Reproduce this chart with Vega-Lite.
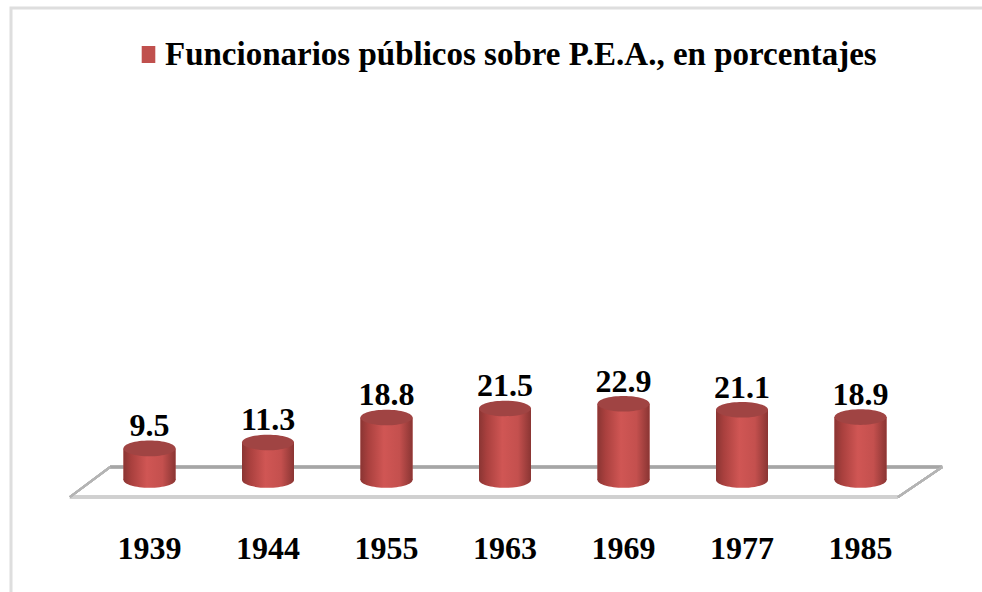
{
  "$schema": "https://vega.github.io/schema/vega-lite/v6.json",
  "width": 1000,
  "height": 600,
  "autosize": {"type": "none"},
  "padding": {"left": 11, "top": 8, "right": 0, "bottom": 0},
  "background": "white",
  "config": {
    "view": {"stroke": "#dedede", "strokeWidth": 3},
    "font": "Liberation Serif"
  },
  "data": {
    "values": [
      {"year": "1939", "value": 9.5, "serie": "Funcionarios públicos sobre P.E.A., en porcentajes"},
      {"year": "1944", "value": 11.3, "serie": "Funcionarios públicos sobre P.E.A., en porcentajes"},
      {"year": "1955", "value": 18.8, "serie": "Funcionarios públicos sobre P.E.A., en porcentajes"},
      {"year": "1963", "value": 21.5, "serie": "Funcionarios públicos sobre P.E.A., en porcentajes"},
      {"year": "1969", "value": 22.9, "serie": "Funcionarios públicos sobre P.E.A., en porcentajes"},
      {"year": "1977", "value": 21.1, "serie": "Funcionarios públicos sobre P.E.A., en porcentajes"},
      {"year": "1985", "value": 18.9, "serie": "Funcionarios públicos sobre P.E.A., en porcentajes"}
    ]
  },
  "encoding": {
    "x": {
      "field": "year",
      "type": "nominal",
      "scale": {"paddingInner": 0.5612, "paddingOuter": 1.0, "align": 0.4747},
      "axis": {
        "title": null,
        "domain": false,
        "ticks": false,
        "tickSize": 0,
        "offset": -60,
        "labelPadding": 0,
        "labelBaseline": "middle",
        "labelAngle": 0,
        "labelFont": "Liberation Serif",
        "labelFontSize": 32,
        "labelFontWeight": "bold",
        "labelColor": "#000000"
      }
    }
  },
  "layer": [
    {
      "mark": {"type": "rule", "color": "#a6a6a6", "strokeWidth": 2.5},
      "encoding": {
        "x": {"datum": "1939", "bandPosition": -0.26},
        "x2": {"datum": "1985", "bandPosition": 2.07},
        "y": {"datum": 3.9, "type": "quantitative", "scale": {"domain": [-38.4, 141.7], "nice": false, "zero": false}, "axis": null}
      }
    },
    {
      "mark": {"type": "rule", "color": "#d0d0d0", "strokeWidth": 3.5},
      "encoding": {
        "x": {"datum": "1939", "bandPosition": -1.03},
        "x2": {"datum": "1985", "bandPosition": 1.22},
        "y": {"datum": -5.1, "type": "quantitative"}
      }
    },
    {
      "mark": {"type": "rule", "color": "#b4b4b4", "strokeWidth": 2},
      "encoding": {
        "x": {"datum": "1939", "bandPosition": -1.03},
        "x2": {"datum": "1939", "bandPosition": -0.26},
        "y": {"datum": -5.1, "type": "quantitative"},
        "y2": {"datum": 3.9}
      }
    },
    {
      "mark": {"type": "rule", "color": "#b4b4b4", "strokeWidth": 2},
      "encoding": {
        "x": {"datum": "1985", "bandPosition": 1.22},
        "x2": {"datum": "1985", "bandPosition": 2.07},
        "y": {"datum": -5.1, "type": "quantitative"},
        "y2": {"datum": 3.9}
      }
    },
    {
      "mark": {
        "type": "point",
        "filled": true,
        "opacity": 1,
        "shape": "M-1,0A1,0.3,0,1,0,1,0A1,0.3,0,1,0,-1,0Z",
        "size": 2704,
        "fill": {"gradient": "linear", "x1": 0, "x2": 1, "y1": 0, "y2": 0,
          "stops": [{"offset": 0, "color": "#8a3533"}, {"offset": 0.15, "color": "#a9403e"}, {"offset": 0.45, "color": "#d05654"}, {"offset": 0.75, "color": "#c4504e"}, {"offset": 1, "color": "#8a3533"}]}
      },
      "encoding": {
        "y": {"datum": 0, "type": "quantitative"}
      }
    },
    {
      "mark": {"type": "bar"},
      "encoding": {
        "y": {"field": "value", "type": "quantitative"},
        "y2": {"datum": 0},
        "color": {
          "field": "serie",
          "type": "nominal",
          "scale": {"range": ["#c0504d"]},
          "legend": {
            "title": null,
            "orient": "none",
            "legendX": 121,
            "legendY": 30,
            "padding": 0,
            "symbolType": "M-0.8,-1H0.8V1H-0.8Z",
            "symbolSize": 289,
            "symbolStrokeWidth": 0,
            "symbolOpacity": 1,
            "labelFont": "Liberation Serif",
            "labelFontSize": 33,
            "labelFontWeight": "bold",
            "labelColor": "#000000",
            "labelLimit": 2000,
            "labelOffset": 0
          }
        }
      }
    },
    {
      "mark": {
        "type": "bar",
        "fill": {"gradient": "linear", "x1": 0, "x2": 1, "y1": 0, "y2": 0,
          "stops": [{"offset": 0, "color": "#8a3533"}, {"offset": 0.15, "color": "#a9403e"}, {"offset": 0.45, "color": "#d05654"}, {"offset": 0.75, "color": "#c4504e"}, {"offset": 1, "color": "#8a3533"}]}
      },
      "encoding": {
        "y": {"field": "value", "type": "quantitative"},
        "y2": {"datum": 0}
      }
    },
    {
      "mark": {
        "type": "point",
        "filled": true,
        "opacity": 1,
        "shape": "M-1,0A1,0.3,0,1,0,1,0A1,0.3,0,1,0,-1,0Z",
        "size": 2704,
        "fill": "#a04443"
      },
      "encoding": {
        "y": {"field": "value", "type": "quantitative"}
      }
    },
    {
      "mark": {
        "type": "text",
        "baseline": "middle",
        "dy": -22,
        "font": "Liberation Serif",
        "fontSize": 32,
        "fontWeight": "bold",
        "color": "#000000"
      },
      "encoding": {
        "y": {"field": "value", "type": "quantitative"},
        "text": {"field": "value", "type": "quantitative", "format": ".1f"}
      }
    }
  ]
}
